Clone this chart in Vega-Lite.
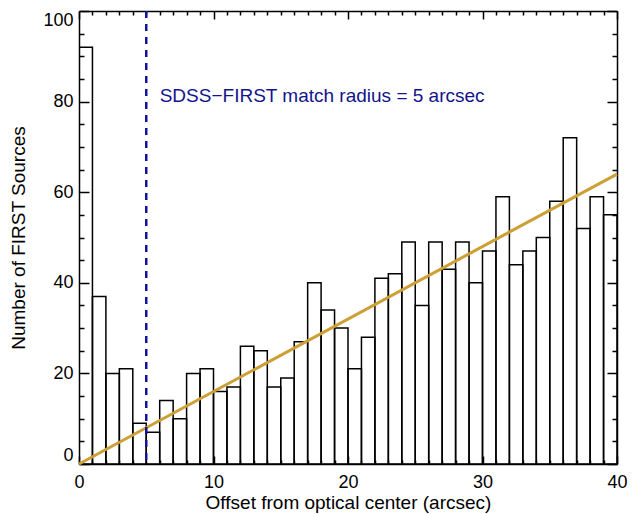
{
  "$schema": "https://vega.github.io/schema/vega-lite/v6.json",
  "width": 538,
  "height": 453,
  "autosize": {"type": "none"},
  "padding": {"left": 79, "top": 11, "right": 24, "bottom": 50},
  "background": "white",
  "config": {
    "view": {"stroke": null},
    "font": "Liberation Sans",
    "axis": {
      "grid": false,
      "domainColor": "black",
      "domainWidth": 1.5,
      "tickColor": "black",
      "tickWidth": 1.5,
      "labelColor": "black",
      "titleColor": "black",
      "labelFont": "Liberation Sans",
      "titleFont": "Liberation Sans",
      "labelFontSize": 18,
      "titleFontSize": 19,
      "titleFontWeight": "normal"
    }
  },
  "datasets": {
    "hist": [
      {"bin_start": 0, "bin_end": 1, "count": 92},
      {"bin_start": 1, "bin_end": 2, "count": 37},
      {"bin_start": 2, "bin_end": 3, "count": 20},
      {"bin_start": 3, "bin_end": 4, "count": 21},
      {"bin_start": 4, "bin_end": 5, "count": 9},
      {"bin_start": 5, "bin_end": 6, "count": 7},
      {"bin_start": 6, "bin_end": 7, "count": 14},
      {"bin_start": 7, "bin_end": 8, "count": 10},
      {"bin_start": 8, "bin_end": 9, "count": 20},
      {"bin_start": 9, "bin_end": 10, "count": 21},
      {"bin_start": 10, "bin_end": 11, "count": 16},
      {"bin_start": 11, "bin_end": 12, "count": 17},
      {"bin_start": 12, "bin_end": 13, "count": 26},
      {"bin_start": 13, "bin_end": 14, "count": 25},
      {"bin_start": 14, "bin_end": 15, "count": 17},
      {"bin_start": 15, "bin_end": 16, "count": 19},
      {"bin_start": 16, "bin_end": 17, "count": 27},
      {"bin_start": 17, "bin_end": 18, "count": 40},
      {"bin_start": 18, "bin_end": 19, "count": 34},
      {"bin_start": 19, "bin_end": 20, "count": 30},
      {"bin_start": 20, "bin_end": 21, "count": 21},
      {"bin_start": 21, "bin_end": 22, "count": 28},
      {"bin_start": 22, "bin_end": 23, "count": 41},
      {"bin_start": 23, "bin_end": 24, "count": 42},
      {"bin_start": 24, "bin_end": 25, "count": 49},
      {"bin_start": 25, "bin_end": 26, "count": 35},
      {"bin_start": 26, "bin_end": 27, "count": 49},
      {"bin_start": 27, "bin_end": 28, "count": 43},
      {"bin_start": 28, "bin_end": 29, "count": 49},
      {"bin_start": 29, "bin_end": 30, "count": 40},
      {"bin_start": 30, "bin_end": 31, "count": 47},
      {"bin_start": 31, "bin_end": 32, "count": 59},
      {"bin_start": 32, "bin_end": 33, "count": 44},
      {"bin_start": 33, "bin_end": 34, "count": 47},
      {"bin_start": 34, "bin_end": 35, "count": 50},
      {"bin_start": 35, "bin_end": 36, "count": 58},
      {"bin_start": 36, "bin_end": 37, "count": 72},
      {"bin_start": 37, "bin_end": 38, "count": 52},
      {"bin_start": 38, "bin_end": 39, "count": 59},
      {"bin_start": 39, "bin_end": 40, "count": 55}
    ],
    "fit": [
      {"offset": 0, "n": 0},
      {"offset": 40, "n": 64}
    ],
    "radius": [
      {"offset": 5}
    ],
    "note": [
      {"offset": 6, "n": 80, "label": "SDSS−FIRST match radius = 5 arcsec"}
    ]
  },
  "resolve": {"axis": {"x": "independent", "y": "independent"}},
  "layer": [
    {
      "data": {"name": "hist"},
      "mark": {"type": "bar", "fill": null, "fillOpacity": 0, "stroke": "black", "strokeWidth": 1.5, "clip": true},
      "encoding": {
        "x": {
          "field": "bin_start", "type": "quantitative",
          "scale": {"domain": [0, 40], "nice": false},
          "axis": {
            "orient": "bottom",
            "title": "Offset from optical center (arcsec)",
            "values": [0,1,2,3,4,5,6,7,8,9,10,11,12,13,14,15,16,17,18,19,20,21,22,23,24,25,26,27,28,29,30,31,32,33,34,35,36,37,38,39,40],
            "labelExpr": "datum.value % 10 === 0 ? datum.label : ''",
            "tickSize": {"condition": {"test": "datum.value % 10 === 0", "value": -8}, "value": -4},
            "labelPadding": 17,
            "labelFlush": false,
            "labelOverlap": false,
            "titlePadding": -2
          }
        },
        "x2": {"field": "bin_end"},
        "y": {
          "field": "count", "type": "quantitative",
          "scale": {"domain": [0, 100], "nice": false},
          "axis": {
            "orient": "left",
            "title": "Number of FIRST Sources",
            "values": [0,5,10,15,20,25,30,35,40,45,50,55,60,65,70,75,80,85,90,95,100],
            "labelExpr": "datum.value % 20 === 0 ? datum.label : ''",
            "tickSize": {"condition": {"test": "datum.value % 20 === 0", "value": -10}, "value": -5},
            "labelPadding": 16,
            "labelFlush": true,
            "labelOverlap": false,
            "titlePadding": 14
          }
        },
        "y2": {"datum": 0}
      }
    },
    {
      "data": {"name": "fit"},
      "mark": {"type": "line", "color": "#CDA036", "strokeWidth": 3},
      "encoding": {
        "x": {
          "field": "offset", "type": "quantitative",
          "axis": {
            "orient": "top",
            "title": null,
            "labels": false,
            "values": [0,1,2,3,4,5,6,7,8,9,10,11,12,13,14,15,16,17,18,19,20,21,22,23,24,25,26,27,28,29,30,31,32,33,34,35,36,37,38,39,40],
            "tickSize": {"condition": {"test": "datum.value % 10 === 0", "value": -8}, "value": -4}
          }
        },
        "y": {
          "field": "n", "type": "quantitative",
          "axis": {
            "orient": "right",
            "title": null,
            "labels": false,
            "values": [0,5,10,15,20,25,30,35,40,45,50,55,60,65,70,75,80,85,90,95,100],
            "tickSize": {"condition": {"test": "datum.value % 20 === 0", "value": -10}, "value": -5}
          }
        }
      }
    },
    {
      "data": {"name": "radius"},
      "mark": {"type": "rule", "color": "#12129A", "strokeWidth": 2.5, "strokeDash": [7, 6]},
      "encoding": {
        "x": {"field": "offset", "type": "quantitative", "axis": null}
      }
    },
    {
      "data": {"name": "note"},
      "mark": {"type": "text", "align": "left", "baseline": "alphabetic", "font": "Liberation Sans", "fontSize": 19, "color": "#14148C"},
      "encoding": {
        "x": {"field": "offset", "type": "quantitative", "axis": null},
        "y": {"field": "n", "type": "quantitative", "axis": null},
        "text": {"field": "label"}
      }
    }
  ]
}
